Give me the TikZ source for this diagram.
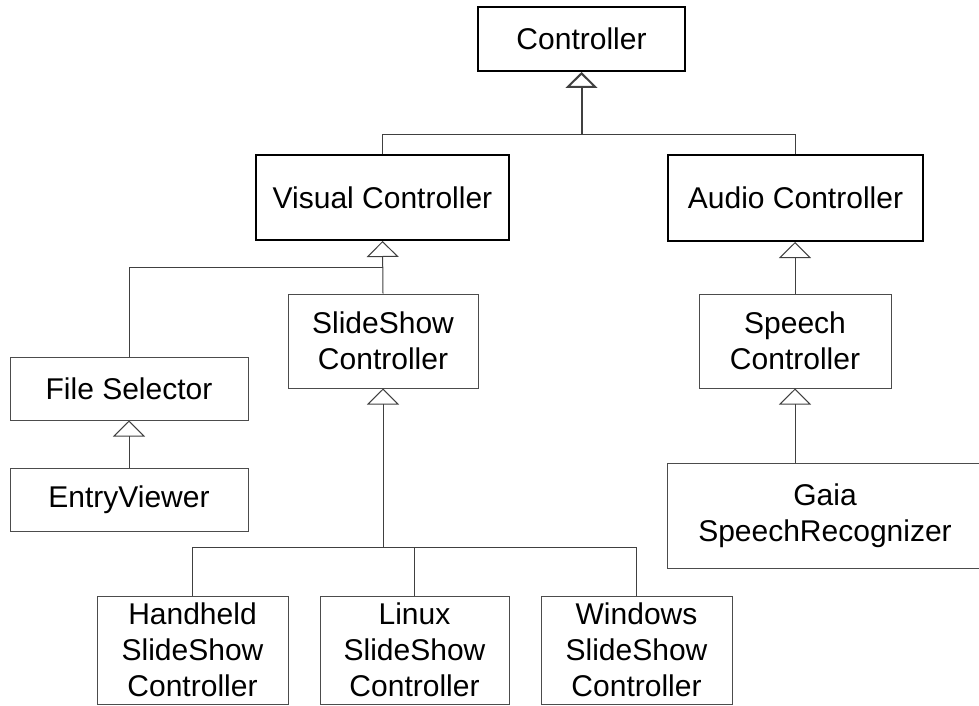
\documentclass[tikz,border=0pt]{standalone}
\usepackage{fontspec}
\setmainfont{Liberation Sans}
\usetikzlibrary{
    arrows.meta,
    calc,
    positioning,
}

\begin{document}
\begin{tikzpicture}[x=0.5pt,y=-0.5pt,>=Stealth]

    \tikzstyle{commonNode}=[font=\fontsize{15}{18}\selectfont, align=center, inner sep=0pt, rectangle]
    \tikzstyle{baseClass}=[commonNode, draw=black, line width=1pt]
    \tikzstyle{subClass}=[commonNode, draw=black!70, line width=0.5pt]
    \tikzstyle{link}=[draw=black!75, line width=0.5pt]
    \tikzstyle{isa}=[link, -{Triangle[open, width=16pt, length=8pt]}]

    % Frame
    \useasboundingbox (0,0) rectangle (979,706);

    % Classes
    \node at (581.5, 39)   [baseClass, minimum width=103.5pt, minimum height=32pt]   (C)    {Controller};
    \node at (382.5, 197.5) [baseClass, minimum width=126.5pt, minimum height=42.5pt] (VC)   {Visual Controller};
    \node at (795.5, 198)  [baseClass, minimum width=127.5pt, minimum height=43pt]   (AC)   {Audio Controller};
    \node at (383, 341)    [subClass, minimum width=95pt, minimum height=47pt]       (SSC)  {SlideShow\\Controller};
    \node at (795, 341)    [subClass, minimum width=96pt, minimum height=47pt]       (SC)   {Speech\\Controller};
    \node at (129, 388.5)  [subClass, minimum width=119pt, minimum height=31.5pt]    (FS)   {File Selector};
    \node at (129, 499.5)  [subClass, minimum width=119pt, minimum height=31.5pt]    (EV)   {EntryViewer};
    \node at (825, 515.5)  [subClass, minimum width=158pt, minimum height=52.5pt]    (GSR)  {Gaia\\SpeechRecognizer};
    \node at (192.5, 650)  [subClass, minimum width=95.5pt, minimum height=54pt]     (HSSC) {Handheld\\SlideShow\\Controller};
    \node at (414.5, 650)  [subClass, minimum width=94.5pt, minimum height=54pt]     (LSSC) {Linux\\SlideShow\\Controller};
    \node at (636.5, 650)  [subClass, minimum width=95.5pt, minimum height=54pt]     (WSSC) {Windows\\SlideShow\\Controller};

    % Junctions
    \coordinate (jC)   at (581.5, 134);
    \coordinate (jVC)  at (383, 267);
    \coordinate (jSSC) at (383, 547);

    % Links
    \draw [link] (VC.north) |- (AC.north |- jC) -- (AC.north);
    \draw [isa, line width=1pt] (jC) -- (C.south);

    \draw [isa] (SSC.north) -- (VC.south);
    \draw [link] (FS.north) |- (jVC);
    \draw [isa] (EV.north) -- (FS.south);

    \draw [isa] (SC.north) -- (SC.north |- AC.south);
    \draw [isa] (GSR.north -| SC.south) -- (SC.south);

    \draw [isa] (jSSC) -- (SSC.south);
    \draw [link] (HSSC.north) |- (WSSC.north |- jSSC) -- (WSSC.north);
    \draw [link] (LSSC.north) -- (LSSC.north |- jSSC);

\end{tikzpicture}
\end{document}
